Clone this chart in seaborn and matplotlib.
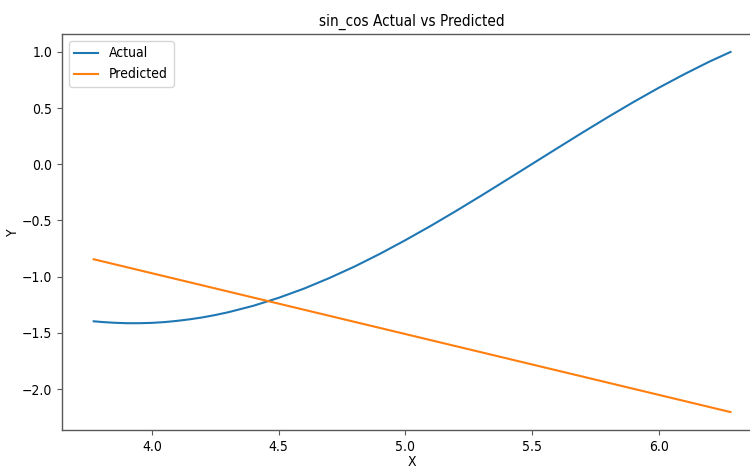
import matplotlib
matplotlib.use("Agg")
import matplotlib.pyplot as plt
from matplotlib import font_manager
import seaborn as sns
import pandas as pd

# ---- data ----
x_actual = [3.7699, 3.8, 3.85, 3.9, 3.95, 4.0, 4.05, 4.1, 4.15, 4.2, 4.25,
            4.3, 4.4, 4.5, 4.6, 4.7, 4.8, 4.9, 5.0, 5.1, 5.2, 5.3, 5.4,
            5.5, 5.6, 5.7, 5.8, 5.9, 6.0, 6.1, 6.2, 6.2832]
y_actual = [-1.397, -1.403, -1.410, -1.414, -1.414, -1.411, -1.404, -1.393,
            -1.379, -1.362, -1.341, -1.317, -1.259, -1.188, -1.106, -1.012,
            -0.909, -0.796, -0.675, -0.548, -0.415, -0.278, -0.138, 0.003,
            0.144, 0.284, 0.421, 0.554, 0.681, 0.801, 0.914, 1.000]
x_pred = [3.7699, 6.2832]
y_pred = [-0.845, -2.205]

title = "sin_cos Actual vs Predicted"
xlabel = "X"
ylabel = "Y"

# ---- font choice: narrow face to mimic the condensed look ----
names = {f.name for f in font_manager.fontManager.ttflist}
if "Liberation Sans Narrow" in names:
    plt.rcParams["font.family"] = ["Liberation Sans Narrow", "DejaVu Sans"]
else:
    plt.rcParams["font.family"] = ["DejaVu Sans"]
    plt.rcParams["font.stretch"] = "condensed"

df_a = pd.DataFrame({"x": x_actual, "y": y_actual})
df_p = pd.DataFrame({"x": x_pred, "y": y_pred})

fig = plt.figure(figsize=(7.5, 4.68), dpi=100)
ax = fig.add_axes([0.0825, 0.081, 0.934, 0.8465])

sns.lineplot(data=df_a, x="x", y="y", ax=ax, color="#1f77b4", linewidth=1.5, label="Actual")
sns.lineplot(data=df_p, x="x", y="y", ax=ax, color="#ff7f0e", linewidth=1.5, label="Predicted")

ax.set_title(title, fontsize=11)
ax.set_xlabel(xlabel, fontsize=10, labelpad=1)
ax.set_ylabel(ylabel, fontsize=10, labelpad=1)
ax.tick_params(labelsize=10, color="0.35")
for s in ax.spines.values():
    s.set_color("0.35")
    s.set_linewidth(1.0)
ax.legend(loc="upper left", fontsize=10, handlelength=1.7)

fig.savefig("out.png", dpi=100)
